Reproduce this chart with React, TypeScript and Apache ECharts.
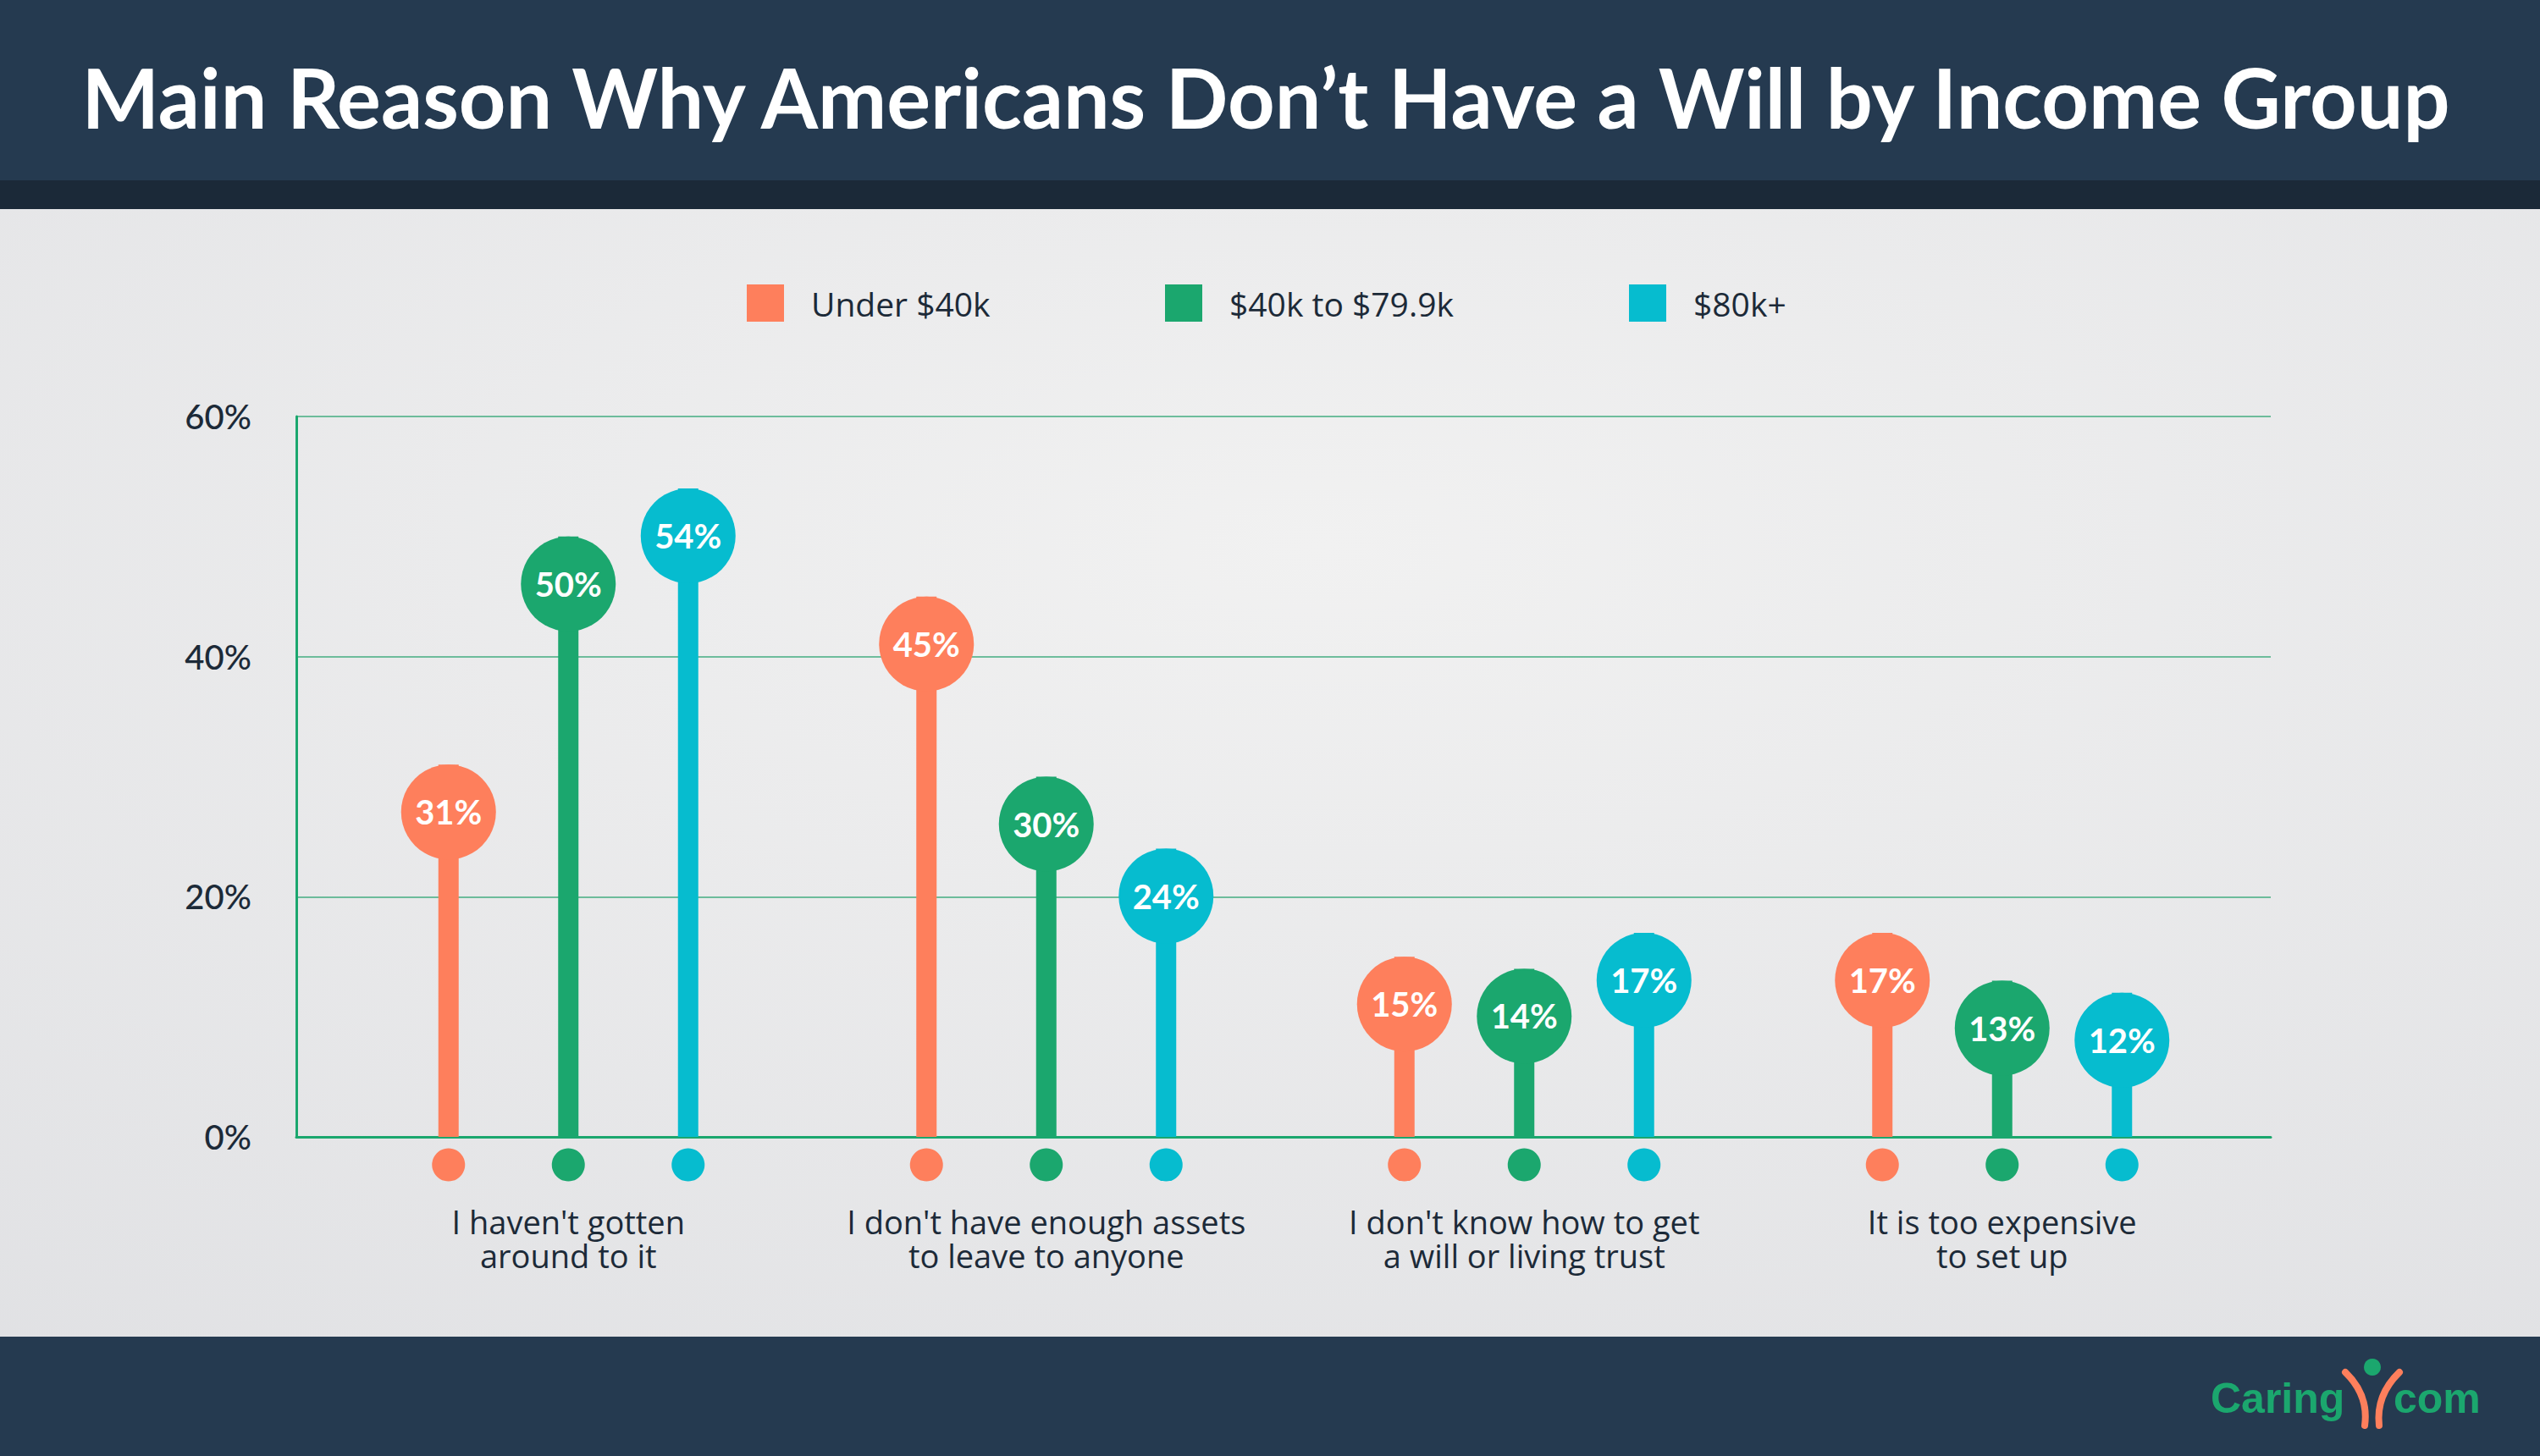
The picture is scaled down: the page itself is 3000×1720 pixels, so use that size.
import React, { useEffect, useRef } from 'react';
import * as echarts from 'echarts';

const categories = [
  "I haven't gotten\naround to it",
  "I don't have enough assets\nto leave to anyone",
  "I don't know how to get\na will or living trust",
  "It is too expensive\nto set up",
];
const seriesNames = ['Under $40k', '$40k to $79.9k', '$80k+'];
const under40k = [31, 45, 15, 17];
const from40kTo79k = [50, 30, 14, 13];
const over80k = [54, 24, 17, 12];
const yMin = 0;
const yMax = 60;
const yInterval = 20;
const title = 'Main Reason Why Americans Don\u2019t Have a Will by Income Group';

const COLORS = ['#fe7f5c', '#1ba76e', '#06bccf'];
const NAVY = '#253a50';
const DARK = '#1c2a38';
const FONT = 'Lato';
const FONT2 = '"Open Sans"';

export default function App() {
  const ref = useRef<HTMLDivElement>(null);
  useEffect(() => {
    const chart = echarts.init(ref.current!, null, { renderer: 'svg', width: 3000, height: 1720 });
    const values = [under40k, from40kTo79k, over80k];
    const dx = [-141.5, 0, 141.5];
    const series: any[] = [];
    values.forEach((vals, i) => {
      series.push({
        name: seriesNames[i],
        type: 'bar',
        xAxisIndex: 1,
        yAxisIndex: 1,
        data: vals,
        barWidth: 24,
        barGap: '489.583%',
        itemStyle: { color: COLORS[i] },
        z: 2,
      });
    });
    values.forEach((vals, i) => {
      series.push({
        name: seriesNames[i],
        type: 'scatter',
        xAxisIndex: 1,
        yAxisIndex: 1,
        data: vals,
        symbol: 'circle',
        symbolSize: 112,
        symbolOffset: [dx[i], 56],
        clip: false,
        itemStyle: { color: COLORS[i], opacity: 1 },
        label: {
          show: true,
          position: 'inside',
          formatter: (p: any) => p.value + '%',
          color: '#ffffff',
          fontSize: 40,
          fontWeight: 'bold',
          fontFamily: FONT,
        },
        z: 4,
      });
      series.push({
        name: seriesNames[i],
        type: 'scatter',
        xAxisIndex: 1,
        yAxisIndex: 1,
        data: categories.map(() => 0),
        symbol: 'circle',
        symbolSize: 39,
        symbolOffset: [dx[i], 33],
        clip: false,
        itemStyle: { color: COLORS[i], opacity: 1 },
        z: 4,
      });
    });

    const legendLefts = [882, 1376, 1924];
    const legends = seriesNames.map((n, i) => ({
      data: [{ name: n, icon: 'rect', itemStyle: { color: COLORS[i] } }],
      left: legendLefts[i],
      top: 336,
      itemWidth: 44,
      itemHeight: 44,
      padding: 0,
      selectedMode: false,
      textStyle: { fontSize: 39, color: DARK, fontFamily: FONT2, fontWeight: 500, padding: [0, 0, 0, 27] },
    }));

    const option: any = {
      animation: false,
      backgroundColor: '#e6e6e8',
      legend: legends,
      grid: [
        { left: 350, right: 318, top: 492, bottom: 377 },
        { left: 389, right: 353, top: 492, bottom: 377 },
      ],
      xAxis: [
        {
          gridIndex: 0,
          type: 'value',
          min: 0,
          max: 1,
          axisLine: { show: true, lineStyle: { color: '#1ba76e', width: 3 } },
          axisTick: { show: false },
          axisLabel: { show: false },
          splitLine: { show: false },
        },
        {
          gridIndex: 1,
          type: 'category',
          data: categories,
          axisLine: { show: false },
          axisTick: { show: false },
          axisLabel: {
            margin: 80,
            fontSize: 38,
            lineHeight: 40,
            color: DARK,
            fontFamily: FONT2,
            fontWeight: 500,
            interval: 0,
          },
        },
      ],
      yAxis: [
        {
          gridIndex: 0,
          type: 'value',
          min: yMin,
          max: yMax,
          interval: yInterval,
          axisLine: { show: true, lineStyle: { color: '#1ba76e', width: 3 } },
          axisTick: { show: false },
          axisLabel: {
            formatter: '{value}%',
            fontSize: 40,
            color: DARK,
            fontFamily: FONT,
            fontWeight: 500,
            margin: 53,
          },
          splitLine: { show: true, lineStyle: { color: '#43ad80', width: 1.5 } },
        },
        {
          gridIndex: 1,
          type: 'value',
          min: yMin,
          max: yMax,
          interval: yInterval,
          show: false,
        },
      ],
      graphic: [
        {
          type: 'rect',
          z: -10,
          shape: { x: 0, y: 245, width: 3000, height: 1335 },
          style: {
            fill: {
              type: 'radial',
              x: 0.52,
              y: 0.3,
              r: 1.35,
              colorStops: [
                { offset: 0, color: '#f1f1f1' },
                { offset: 1, color: '#d8d9dd' },
              ],
            },
          },
        },
        { type: 'rect', z: -5, shape: { x: 0, y: 0, width: 3000, height: 213 }, style: { fill: NAVY } },
        { type: 'rect', z: -5, shape: { x: 0, y: 213, width: 3000, height: 34 }, style: { fill: '#1b2938' } },
        { type: 'rect', z: -5, shape: { x: 0, y: 1579, width: 3000, height: 141 }, style: { fill: NAVY } },
        {
          type: 'text',
          z: 10,
          x: 1495,
          y: 114,
          style: {
            text: title,
            fill: '#ffffff',
            font: `bold 97px ${FONT}`,
            align: 'center',
            verticalAlign: 'middle',
          },
        },
        {
          type: 'text',
          z: 10,
          x: 2611,
          y: 1652,
          style: {
            text: 'Caring',
            fill: '#1ba76e',
            font: 'bold 50px "Liberation Sans"',
            align: 'left',
            verticalAlign: 'middle',
          },
        },
        {
          type: 'text',
          z: 10,
          x: 2827,
          y: 1652,
          style: {
            text: 'com',
            fill: '#1ba76e',
            font: 'bold 50px "Liberation Sans"',
            align: 'left',
            verticalAlign: 'middle',
          },
        },
        {
          type: 'circle',
          z: 10,
          shape: { cx: 2802, cy: 1615, r: 10 },
          style: { fill: '#1ba76e' },
        },
        {
          type: 'bezierCurve',
          z: 10,
          shape: { x1: 2770, y1: 1621, cpx1: 2798, cpy1: 1648, x2: 2793, y2: 1684 },
          style: { stroke: '#fe7f5c', lineWidth: 8, lineCap: 'round', fill: 'none' },
        },
        {
          type: 'bezierCurve',
          z: 10,
          shape: { x1: 2834, y1: 1621, cpx1: 2806, cpy1: 1648, x2: 2810, y2: 1684 },
          style: { stroke: '#fe7f5c', lineWidth: 8, lineCap: 'round', fill: 'none' },
        },
      ],
      series,
    };
    chart.setOption(option);
    return () => chart.dispose();
  }, []);
  return <div ref={ref} style={{ position: 'absolute', left: 0, top: 0, width: 3000, height: 1720 }} />;
}
